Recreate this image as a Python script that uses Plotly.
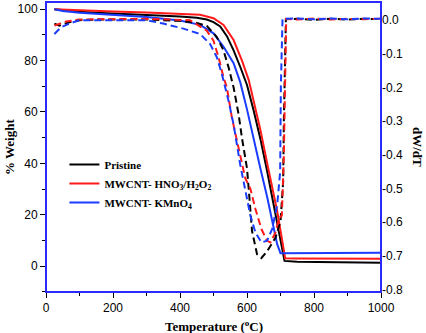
import plotly.graph_objects as go

# ---------------- data ----------------
# Weight (%) curves (left axis)
T_pristine = [25, 50, 100, 150, 200, 250, 300, 350, 400, 450, 480, 500, 520, 540, 560, 580, 600, 620, 640, 660, 680, 700, 712, 750, 800, 900, 1000]
W_pristine = [100.0, 99.6, 99.0, 98.6, 98.3, 98.1, 97.9, 97.6, 97.2, 96.7, 96.0, 95.0, 93.3, 89.5, 84.0, 77.5, 70.5, 60.5, 49.5, 37.0, 24.0, 10.5, 2.0, 1.7, 1.6, 1.4, 1.3]

T_hno3 = [25, 100, 200, 300, 400, 460, 500, 530, 560, 585, 605, 620, 640, 665, 690, 705, 714, 750, 900, 1000]
W_hno3 = [100.0, 99.5, 99.1, 98.7, 98.3, 97.8, 96.5, 93.9, 88.0, 80.0, 72.5, 64.5, 53.0, 37.0, 21.5, 10.0, 3.0, 2.9, 2.8, 2.8]

T_kmno4 = [25, 50, 100, 200, 300, 400, 460, 500, 530, 560, 580, 600, 620, 640, 660, 675, 690, 700, 750, 900, 1000]
W_kmno4 = [100.0, 99.3, 98.6, 97.8, 97.0, 95.6, 93.9, 90.6, 85.4, 79.0, 71.5, 61.0, 49.0, 38.0, 27.0, 17.5, 8.5, 5.0, 5.0, 5.1, 5.2]

# Derivative dW/dT curves (right axis)
dT_pristine = [25, 40, 70, 100, 150, 200, 300, 400, 450, 480, 510, 530, 545, 560, 575, 585, 600, 605, 615, 630, 643, 660, 685, 700, 704, 708, 710, 713, 716, 750, 800, 850, 900, 950, 1000]
dW_pristine = [-0.010, -0.016, -0.006, 0.0, 0.002, 0.002, 0.002, -0.002, -0.008, -0.017, -0.05, -0.09, -0.14, -0.20, -0.28, -0.35, -0.44, -0.50, -0.626, -0.695, -0.706, -0.686, -0.646, -0.597, -0.546, -0.48, -0.30, -0.06, 0.003, 0.004, 0.001, 0.004, 0.002, 0.004, 0.003]

dT_hno3 = [25, 60, 100, 200, 300, 430, 480, 500, 515, 530, 540, 555, 575, 595, 610, 625, 643, 660, 670, 685, 695, 704, 710, 714, 717, 750, 800, 850, 900, 950, 1000]
dW_hno3 = [-0.016, -0.004, 0.002, 0.004, 0.004, 0.0, -0.031, -0.061, -0.11, -0.17, -0.20, -0.29, -0.38, -0.47, -0.50, -0.56, -0.62, -0.655, -0.66, -0.63, -0.59, -0.58, -0.40, -0.20, 0.004, 0.002, 0.005, 0.002, 0.004, 0.003, 0.004]

dT_kmno4 = [25, 45, 70, 100, 150, 300, 350, 410, 460, 490, 510, 525, 545, 560, 580, 595, 610, 625, 643, 660, 675, 690, 699, 701, 703, 706, 750, 800, 850, 900, 950, 1000]
dW_kmno4 = [-0.041, -0.021, -0.010, 0.0, 0.0, 0.0, -0.010, -0.025, -0.041, -0.071, -0.11, -0.16, -0.24, -0.31, -0.43, -0.50, -0.58, -0.63, -0.66, -0.655, -0.62, -0.55, -0.45, -0.20, -0.10, 0.004, 0.005, 0.003, 0.005, 0.003, 0.005, 0.004]

x_ticks = [0, 200, 400, 600, 800, 1000]
left_ticks = [0, 20, 40, 60, 80, 100]
right_tick_vals = [0.0, -0.1, -0.2, -0.3, -0.4, -0.5, -0.6, -0.7, -0.8]
right_tick_text = ["0.0", "-0.1", "-0.2", "-0.3", "-0.4", "-0.5", "-0.6", "-0.7", "-0.8"]

names = ["<b>Pristine</b>", "<b>MWCNT- HNO<sub>3</sub>/H<sub>2</sub>O<sub>2</sub></b>", "<b>MWCNT- KMnO<sub>4</sub></b>"]
colors = ["#000000", "#ff1a1a", "#1a3cff"]

# ---------------- figure ----------------
fig = go.Figure()
weights = [(T_pristine, W_pristine), (T_hno3, W_hno3), (T_kmno4, W_kmno4)]
derivs = [(dT_pristine, dW_pristine), (dT_hno3, dW_hno3), (dT_kmno4, dW_kmno4)]

for (t, w), name, c in zip(weights, names, colors):
    fig.add_trace(go.Scatter(x=t, y=w, mode="lines", name=name,
                             line=dict(color=c, width=2), yaxis="y"))
for (t, d), name, c in zip(derivs, names, colors):
    fig.add_trace(go.Scatter(x=t, y=d, mode="lines", name=name, showlegend=False,
                             line=dict(color=c, width=2, dash="7px,4px"), yaxis="y2"))

frame = "#2a2aff"
serif = "Liberation Serif, Times New Roman, serif"
tickfont = dict(family="Liberation Sans, Arial, sans-serif", size=12, color="#000")
fig.update_layout(
    width=426, height=333,
    margin=dict(l=46, r=45, t=2, b=41, autoexpand=False),
    paper_bgcolor="white", plot_bgcolor="white",
    showlegend=True,
    legend=dict(x=0.055, y=0.49, xanchor="left", yanchor="top",
                bgcolor="rgba(0,0,0,0)",
                font=dict(family=serif, size=11, color="#000"),
                itemwidth=30, tracegroupgap=0),
    xaxis=dict(range=[0, 1000], tickvals=x_ticks, ticks="outside", ticklen=5,
               tickcolor="#000", showgrid=False, zeroline=False, automargin=False,
               showline=False, tickfont=tickfont,
               minor=dict(ticks="outside", ticklen=3, dtick=100, tickcolor="#000")),
    yaxis=dict(range=[-10.1, 102.8], tickvals=left_ticks, ticks="outside", ticklen=5,
               tickcolor="#000", showgrid=False, zeroline=False, automargin=False,
               showline=False, tickfont=tickfont,
               minor=dict(ticks="outside", ticklen=3, dtick=10, tickcolor="#000")),
    yaxis2=dict(range=[-0.807, 0.054], overlaying="y", side="right",
                tickvals=right_tick_vals, ticktext=right_tick_text, automargin=False,
                ticks="", showgrid=False, zeroline=False, showline=False,
                tickfont=tickfont),
    shapes=[dict(type="rect", xref="paper", yref="paper", x0=0, y0=0, x1=1, y1=1,
                 line=dict(color=frame, width=2), layer="above")],
    annotations=[
        dict(text="<b>% Weight</b>", xref="paper", yref="paper", x=0, y=0.5,
             xanchor="center", yanchor="middle",
             xshift=-37, textangle=-90, showarrow=False,
             font=dict(family=serif, size=13, color="#000")),
        dict(text="<b>dW/dT</b>", xref="paper", yref="paper", x=1, y=0.5,
             xanchor="center", yanchor="middle",
             xshift=37, textangle=90, showarrow=False,
             font=dict(family=serif, size=13, color="#000")),
        dict(text="<b>Temperature (<sup>o</sup>C)</b>", xref="paper", yref="paper",
             x=0.5, y=0, xanchor="center", yanchor="top", yshift=-24, showarrow=False,
             font=dict(family=serif, size=13, color="#000")),
    ],
)

fig.write_html("out.html", config={"displayModeBar": False},
               post_script="document.body.style.margin='0px';")
